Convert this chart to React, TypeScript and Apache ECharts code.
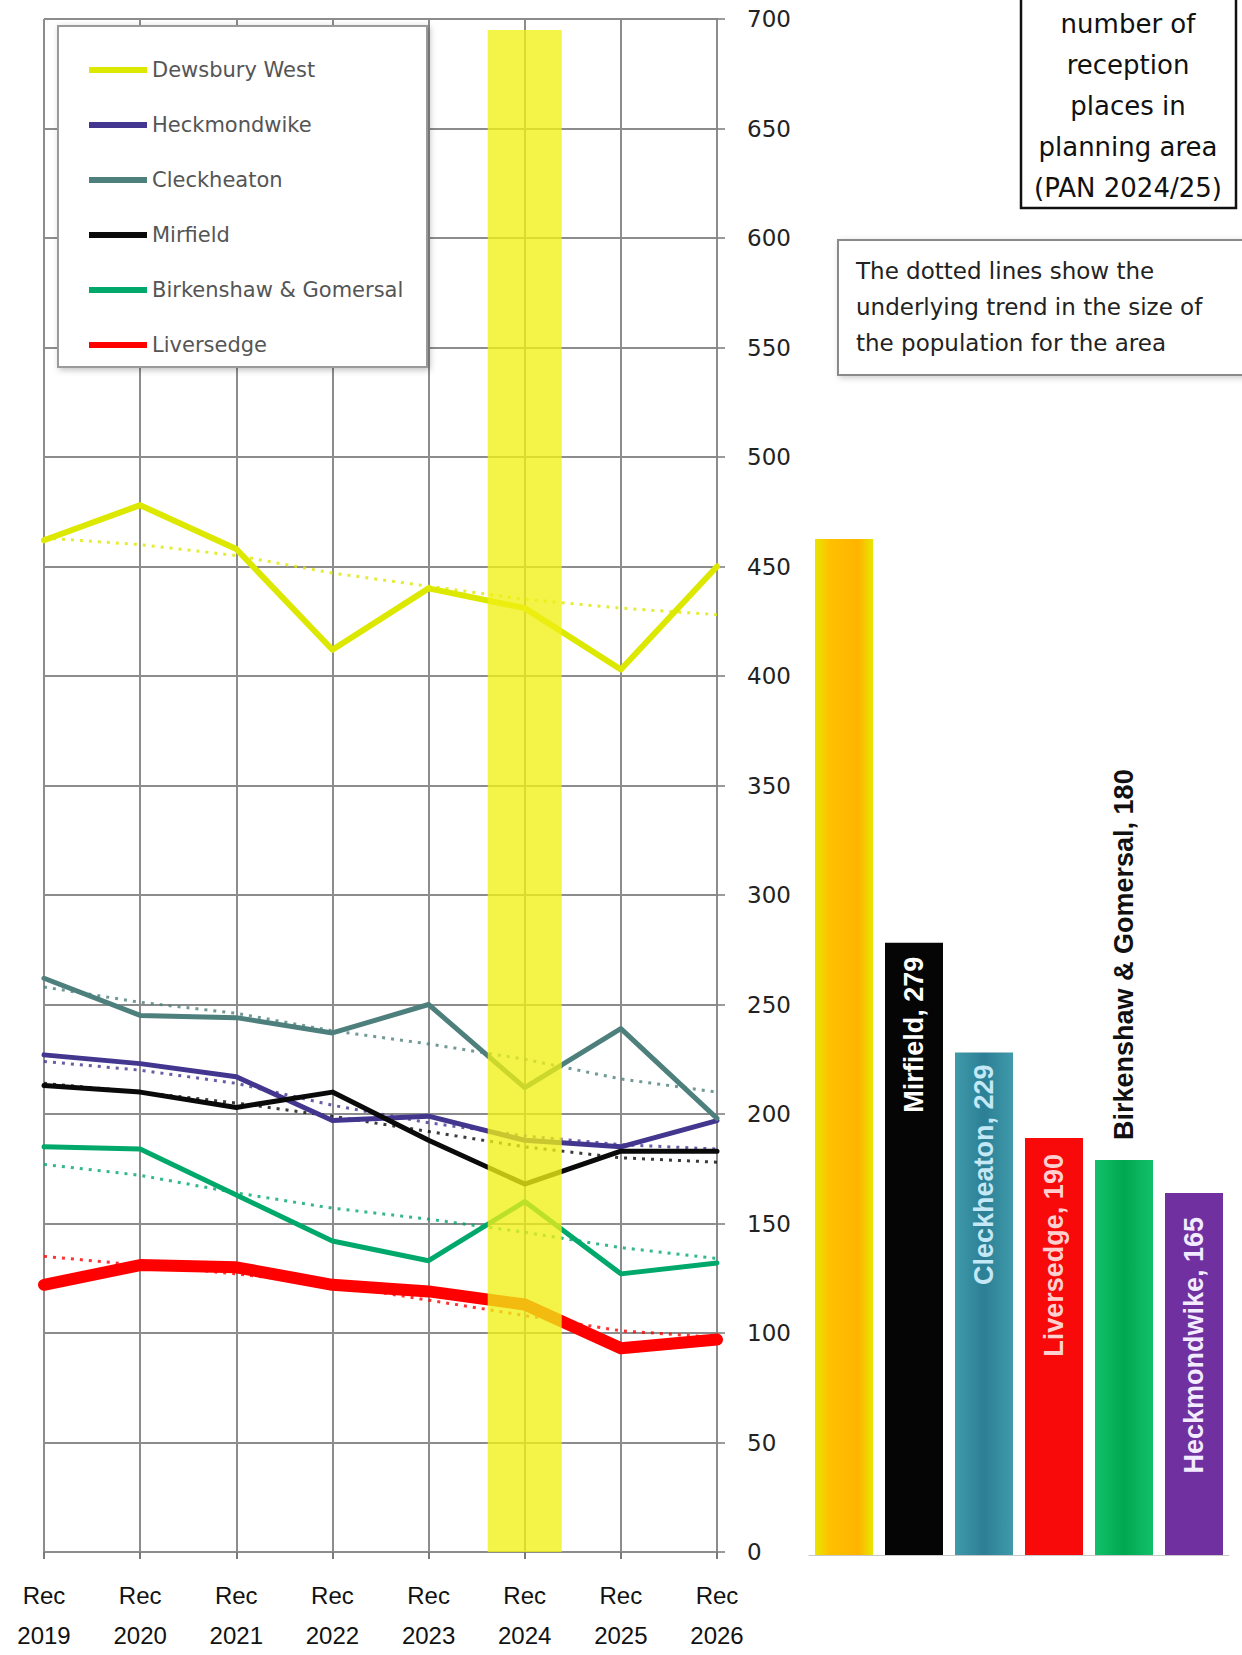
import React, { useEffect, useRef } from "react";
import * as echarts from "echarts";

// ---- Data ----
const years = ["Rec\n2019", "Rec\n2020", "Rec\n2021", "Rec\n2022", "Rec\n2023", "Rec\n2024", "Rec\n2025", "Rec\n2026"];

const dewsburyWest = [462, 478, 458, 412, 440, 431, 403, 450];
const heckmondwike = [227, 223, 217, 197, 199, 188, 185, 197];
const cleckheaton = [262, 245, 244, 237, 250, 212, 239, 198];
const mirfield = [213, 210, 203, 210, 188, 168, 183, 183];
const birkenshawGomersal = [185, 184, 163, 142, 133, 160, 127, 132];
const liversedge = [122, 131, 130, 122, 119, 113, 93, 97];

// dotted trend lines (underlying population trend)
const dewsburyWestTrend = [463, 460, 455, 447, 441, 435, 431, 428];
const heckmondwikeTrend = [224, 220, 214, 204, 196, 190, 186, 184];
const cleckheatonTrend = [258, 251, 246, 238, 232, 225, 216, 210];
const mirfieldTrend = [214, 210, 205, 199, 192, 185, 180, 178];
const birkenshawGomersalTrend = [177, 172, 164, 157, 152, 146, 139, 134];
const liversedgeTrend = [135, 131, 127, 122, 115, 108, 101, 98];

// highlighted current year band
const highlightBand = [null, null, null, null, null, 695, null, null];

// reception places (PAN 2024/25)
const areaNames = ["Dewsbury West", "Mirfield", "Cleckheaton", "Liversedge", "Birkenshaw & Gomersal", "Heckmondwike"];
const placesPAN = [463, 279, 229, 190, 180, 165];

const legendNames = ["Dewsbury West", "Heckmondwike", "Cleckheaton", "Mirfield", "Birkenshaw & Gomersal", "Liversedge"];

export default function App() {
  const ref = useRef<HTMLDivElement>(null);

  useEffect(() => {
    document.body.style.margin = "0";
    if (!ref.current) return;
    const chart = echarts.init(ref.current, undefined, { renderer: "svg" });

    const lineDefs = [
      { name: "Dewsbury West", data: dewsburyWest, trend: dewsburyWestTrend, color: "#dde800", width: 6 },
      { name: "Heckmondwike", data: heckmondwike, trend: heckmondwikeTrend, color: "#43368f", width: 5 },
      { name: "Cleckheaton", data: cleckheaton, trend: cleckheatonTrend, color: "#4d7f7c", width: 5 },
      { name: "Mirfield", data: mirfield, trend: mirfieldTrend, color: "#0a0a0a", width: 5 },
      { name: "Birkenshaw & Gomersal", data: birkenshawGomersal, trend: birkenshawGomersalTrend, color: "#00a86b", width: 5 },
      { name: "Liversedge", data: liversedge, trend: liversedgeTrend, color: "#ff0000", width: 12 },
    ];

    const lineSeries: any[] = [];
    lineDefs.forEach((d) => {
      lineSeries.push({
        name: d.name + " trend",
        type: "line",
        xAxisIndex: 0,
        yAxisIndex: 0,
        data: d.trend,
        showSymbol: false,
        silent: true,
        z: 2,
        lineStyle: { color: d.color, width: 3, type: [3, 6], opacity: 0.8 },
        itemStyle: { color: d.color },
      });
    });
    lineDefs.forEach((d) => {
      lineSeries.push({
        name: d.name,
        type: "line",
        xAxisIndex: 0,
        yAxisIndex: 0,
        data: d.data,
        showSymbol: false,
        z: 3,
        lineStyle: { color: d.color, width: d.width, cap: "round", join: "round" },
        itemStyle: { color: d.color },
      });
    });

    const grad = (stops: [number, string][]) =>
      new echarts.graphic.LinearGradient(0, 0, 1, 0, stops.map(([o, c]) => ({ offset: o, color: c })));

    const barColors = [
      grad([[0, "#e8e600"], [0.25, "#ffc000"], [0.75, "#ffb400"], [1, "#e8e600"]]),
      "#050505",
      grad([[0, "#3f9aaa"], [0.5, "#2c7f95"], [1, "#3f9aaa"]]),
      "#f80a0a",
      grad([[0, "#12c06a"], [0.5, "#00a850"], [1, "#12c06a"]]),
      "#7030a0",
    ];

    const insideLabel = (color: string, distance: number) => ({
      show: true,
      position: "insideTop",
      rotate: 90,
      align: "right",
      verticalAlign: "middle",
      distance,
      formatter: "{b}, {c}",
      color,
      fontSize: 27,
      fontWeight: "bold",
      fontFamily: "Liberation Sans Narrow, Liberation Sans",
    });

    const barLabels: any[] = [
      { show: false },
      insideLabel("#ffffff", 14),
      insideLabel("#c4e8f5", 12),
      insideLabel("#ffd0d0", 16),
      {
        show: true,
        position: "top",
        rotate: 90,
        align: "left",
        verticalAlign: "middle",
        distance: 20,
        formatter: "{b}, {c}",
        color: "#111",
        fontSize: 27,
        fontWeight: "bold",
        fontFamily: "Liberation Sans Narrow, Liberation Sans",
      },
      insideLabel("#f3ebff", 24),
    ];

    const option: any = {
      animation: false,
      backgroundColor: "#ffffff",
      grid: [
        { left: 44, top: 19, width: 673, height: 1536 },
        { left: 809, top: 19, width: 420, height: 1536 },
      ],
      xAxis: [
        {
          type: "category",
          gridIndex: 0,
          data: years,
          boundaryGap: false,
          axisLine: { lineStyle: { color: "#8c8c8c", width: 2 } },
          axisTick: { show: true, length: 7, lineStyle: { color: "#7a7a7a", width: 2 } },
          axisLabel: { margin: 23, fontSize: 24, lineHeight: 40, color: "#111", fontFamily: "Liberation Sans" },
          splitLine: { show: true, lineStyle: { color: "#8c8c8c", width: 2 } },
        },
        {
          type: "category",
          gridIndex: 1,
          data: areaNames,
          axisLine: { lineStyle: { color: "#c8c8c8", width: 1 } },
          axisTick: { show: false },
          axisLabel: { show: false },
          splitLine: { show: false },
        },
      ],
      yAxis: [
        {
          type: "value",
          gridIndex: 0,
          position: "right",
          min: 0,
          max: 700,
          interval: 50,
          axisLine: { show: true, lineStyle: { color: "#8c8c8c", width: 2 } },
          axisTick: { show: true, length: 8, lineStyle: { color: "#7a7a7a", width: 1.5 } },
          axisLabel: { margin: 30, fontSize: 23, color: "#222", fontFamily: "DejaVu Sans" },
          splitLine: { lineStyle: { color: "#8c8c8c", width: 2 } },
        },
        { type: "value", gridIndex: 1, min: 0, max: 700, show: false },
      ],
      legend: {
        left: 84,
        top: 54,
        orient: "vertical",
        itemWidth: 58,
        itemHeight: 6,
        itemGap: 33,
        selectedMode: false,
        z: 20,
        textStyle: { fontSize: 21, lineHeight: 22, color: "#555", fontFamily: "DejaVu Sans" },
        data: legendNames.map((n) => ({ name: n, icon: "rect" })),
      },
      graphic: [
        {
          type: "rect",
          z: 10,
          shape: { x: 58, y: 26, width: 369, height: 341 },
          style: {
            fill: "#ffffff",
            stroke: "#9a9a9a",
            lineWidth: 2,
            shadowBlur: 6,
            shadowColor: "rgba(0,0,0,0.25)",
            shadowOffsetX: 2,
            shadowOffsetY: 2,
          },
        },
        {
          type: "rect",
          z: 10,
          shape: { x: 1021, y: -2, width: 215, height: 210 },
          style: { fill: "#ffffff", stroke: "#111111", lineWidth: 2.5 },
        },
        {
          type: "text",
          z: 11,
          x: 1128,
          y: 3,
          style: {
            text: "number of\nreception\nplaces in\nplanning area\n(PAN 2024/25)",
            textAlign: "center",
            textVerticalAlign: "top",
            fontSize: 26,
            lineHeight: 41,
            fontFamily: "DejaVu Sans",
            fill: "#111",
          },
        },
        {
          type: "rect",
          z: 10,
          shape: { x: 838, y: 240, width: 420, height: 135 },
          style: {
            fill: "#ffffff",
            stroke: "#8a8a8a",
            lineWidth: 2,
            shadowBlur: 6,
            shadowColor: "rgba(0,0,0,0.2)",
            shadowOffsetX: 2,
            shadowOffsetY: 2,
          },
        },
        {
          type: "text",
          z: 11,
          x: 856,
          y: 253,
          style: {
            text: "The dotted lines show the\nunderlying trend in the size of\nthe population for the area",
            textAlign: "left",
            textVerticalAlign: "top",
            fontSize: 23,
            lineHeight: 36,
            fontFamily: "DejaVu Sans",
            fill: "#222",
          },
        },
      ],
      series: [
        ...lineSeries,
        {
          name: "highlight",
          type: "bar",
          xAxisIndex: 0,
          yAxisIndex: 0,
          data: highlightBand,
          barWidth: 74,
          silent: true,
          z: 5,
          itemStyle: { color: "rgba(240,240,20,0.78)" },
        },
        {
          name: "Reception places",
          type: "bar",
          xAxisIndex: 1,
          yAxisIndex: 1,
          barWidth: 58,
          z: 3,
          data: areaNames.map((n, i) => ({
            value: placesPAN[i],
            itemStyle: { color: barColors[i] },
            label: barLabels[i],
          })),
        },
      ],
    };

    chart.setOption(option);
    return () => chart.dispose();
  }, []);

  return <div ref={ref} style={{ width: 1242, height: 1655 }} />;
}
